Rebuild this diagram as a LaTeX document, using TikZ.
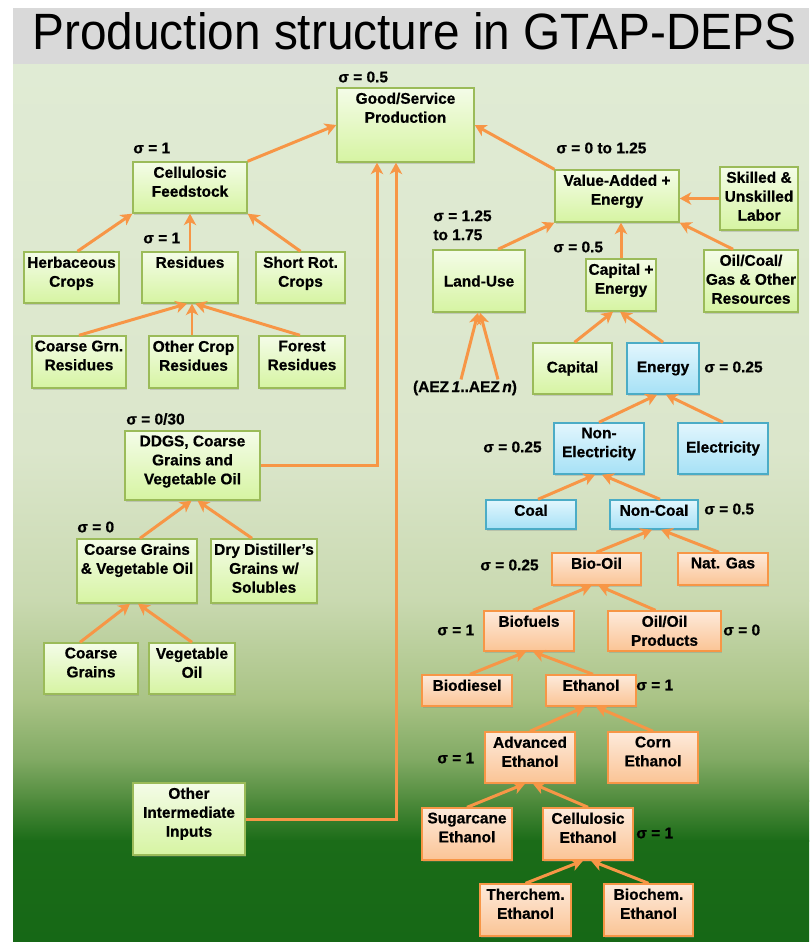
\documentclass[tikz,border=0pt]{standalone}
\usepackage{fontspec}
\setmainfont{Liberation Sans}
\newfontfamily\heavyfnt{Liberation Sans Bold}[FakeBold=0.7]
\usepackage{graphicx}
\usetikzlibrary{arrows.meta,calc,shadows}

% palette
\definecolor{titlegray}{HTML}{D9D9D9}
\definecolor{bgA}{HTML}{E0EBD4}
\definecolor{bgB}{HTML}{DBE6CB}
\definecolor{bgC}{HTML}{C9D9B0}
\definecolor{bgD}{HTML}{A9C385}
\definecolor{bgE}{HTML}{80A963}
\definecolor{bgF}{HTML}{4F8B3C}
\definecolor{bgG}{HTML}{1B6C18}
\definecolor{bgH}{HTML}{166816}
\definecolor{gtop}{HTML}{F4FCE8}
\definecolor{gbot}{HTML}{D6F4A2}
\definecolor{gline}{HTML}{9BBB59}
\definecolor{btop}{HTML}{E2F6FD}
\definecolor{bbot}{HTML}{A6E1F6}
\definecolor{bline}{HTML}{4BACC6}
\definecolor{otop}{HTML}{FDEADB}
\definecolor{obot}{HTML}{FBC495}
\definecolor{oline}{HTML}{F79646}
\definecolor{arrc}{HTML}{F79646}

\newcommand\boxfnt{\heavyfnt\fontsize{8.8}{10.8}\selectfont}

% box: style, name, x1, y1, x2, y2, vertical text position (t/c), text
\newcommand\bx[8]{%
  \node[#1] (#2) at ({(#3+#5)/2},{(#4+#6)/2})
    {\parbox[c][\dimexpr0.02cm*(#6-#4)\relax][#7]{\dimexpr0.02cm*(#5-#3)\relax}%
      {\ifx t#7\vspace*{2.6pt}\fi\centering #8\par}};}

\tikzset{
  boxbase/.style={inner sep=0pt, line width=0.8pt, font=\boxfnt,
    drop shadow={shadow xshift=0.8pt, shadow yshift=-0.9pt, opacity=0.3}},
  gbox/.style={boxbase, draw=gline, top color=gtop, bottom color=gbot},
  bbox/.style={boxbase, draw=bline, top color=btop, bottom color=bbot},
  obox/.style={boxbase, draw=oline, top color=otop, bottom color=obot},
  sig/.style={font=\boxfnt, inner sep=0pt, anchor=west},
  arr/.style={draw=arrc, line width=1.7pt,
    -{Stealth[length=6.5pt,width=7pt,inset=1.8pt]}},
  link/.style={draw=arrc, line width=1.7pt, line join=miter,
    -{Stealth[length=6.5pt,width=7pt,inset=1.8pt]}},
}

\begin{document}
\begin{tikzpicture}[x=0.02cm,y=-0.02cm]
\useasboundingbox (0,0) rectangle (809,942);

% background panels
\fill[white] (0,0) rectangle (809,942);
\fill[titlegray] (13,8) rectangle (809,65.5);
\fill[bgA] (13,65) rectangle (809,66);
\shade[top color=bgA, bottom color=bgB] (13,65) rectangle (809,451);
\shade[top color=bgB, bottom color=bgC] (13,450) rectangle (809,601);
\shade[top color=bgC, bottom color=bgD] (13,600) rectangle (809,701);
\shade[top color=bgD, bottom color=bgE] (13,700) rectangle (809,761);
\shade[top color=bgE, bottom color=bgF] (13,760) rectangle (809,801);
\shade[top color=bgF, bottom color=bgG] (13,800) rectangle (809,841);
\shade[top color=bgG, bottom color=bgH] (13,840) rectangle (809,942);

% title
\node[anchor=base west, inner sep=0pt] (title) at (32,50)
  {\resizebox{15.28cm}{0.74cm}{Production structure in GTAP-DEPS}};

% ---- left branch ----
\bx{gbox}{gsp}{337}{88}{474}{162}{t}{Good/Service\\Production}
\bx{gbox}{cf}{133}{162}{247}{213}{t}{Cellulosic\\Feedstock}
\bx{gbox}{herb}{24}{252}{119}{303}{t}{Herbaceous\\Crops}
\bx{gbox}{res}{142}{252}{238}{303}{t}{Residues}
\bx{gbox}{srot}{256}{252}{345}{303}{t}{Short Rot.\\Crops}
\bx{gbox}{cgr}{32}{336}{126}{388}{t}{Coarse Grn.\\Residues}
\bx{gbox}{ocr}{149}{336}{238}{388}{t}{Other Crop\\Residues}
\bx{gbox}{fr}{259}{336}{345}{388}{t}{Forest\\Residues}
\bx{gbox}{ddgs}{125}{431}{260}{500}{t}{DDGS, Coarse\\Grains and\\Vegetable Oil}
\bx{gbox}{cgvo}{77}{539}{197}{603}{t}{Coarse Grains\\\& Vegetable Oil}
\bx{gbox}{ddg}{211}{539}{317}{603}{t}{Dry Distiller’s\\Grains w/\\Solubles}
\bx{gbox}{cg}{44}{643}{138}{694}{t}{Coarse\\Grains}
\bx{gbox}{vo}{149}{643}{235}{694}{t}{Vegetable\\Oil}
\bx{gbox}{oii}{133}{783}{245}{855}{t}{Other\\Intermediate\\Inputs}

% ---- right branch ----
\bx{gbox}{va}{555}{170}{679}{222}{t}{Value-Added +\\Energy}
\bx{gbox}{skl}{720}{167}{798}{230}{t}{Skilled \&\\Unskilled\\Labor}
\bx{gbox}{lu}{433}{250}{525}{312}{c}{Land-Use}
\bx{gbox}{cape}{586}{259}{656}{311}{t}{Capital +\\Energy}
\bx{gbox}{ocg}{704}{250}{798}{312}{t}{Oil/Coal/\\Gas \& Other\\Resources}
\bx{gbox}{cap}{533}{343}{612}{394}{c}{Capital}
\bx{bbox}{en}{627}{343}{699}{394}{c}{Energy}
\bx{bbox}{nel}{554}{423}{644}{474}{t}{Non-\\Electricity}
\bx{bbox}{el}{678}{423}{768}{474}{c}{Electricity}
\bx{bbox}{coal}{486}{500}{576}{529}{t}{Coal}
\bx{bbox}{ncoal}{610}{500}{698}{529}{t}{Non-Coal}
\bx{obox}{bio}{552}{553}{641}{585}{t}{Bio-Oil}
\bx{obox}{ng}{678}{553}{768}{585}{t}{Nat. Gas}
\bx{obox}{bf}{484}{611}{574}{651}{t}{Biofuels}
\bx{obox}{oil}{608}{611}{721}{651}{t}{Oil/Oil\\Products}
\bx{obox}{bd}{422}{675}{512}{706}{t}{Biodiesel}
\bx{obox}{eth}{546}{675}{636}{706}{t}{Ethanol}
\bx{obox}{adv}{485}{732}{575}{783}{t}{Advanced\\Ethanol}
\bx{obox}{corn}{608}{732}{698}{783}{t}{Corn\\Ethanol}
\bx{obox}{sug}{422}{808}{512}{860}{t}{Sugarcane\\Ethanol}
\bx{obox}{ce}{543}{808}{633}{860}{t}{Cellulosic\\Ethanol}
\bx{obox}{th}{480}{884}{571}{936}{t}{Therchem.\\Ethanol}
\bx{obox}{bc}{604}{884}{693}{936}{t}{Biochem.\\Ethanol}

\node[font=\boxfnt, inner sep=0pt] (aez) at (465,388)
  {(AEZ\,\textit{1}..AEZ\,\textit{n})};

% elasticity labels
\node[sig] (s1)  at (338,77)  {σ = 0.5};
\node[sig] (s2)  at (133,148) {σ = 1};
\node[sig] (s3)  at (143,238) {σ = 1};
\node[sig] (s4)  at (126,419) {σ = 0/30};
\node[sig] (s5)  at (77,527)  {σ = 0};
\node[sig] (s6)  at (556,148) {σ = 0 to 1.25};
\node[sig, anchor=north west, align=left] (s7) at (433,210) {σ = 1.25\\to 1.75};
\node[sig] (s8)  at (553,247) {σ = 0.5};
\node[sig] (s9)  at (704,367) {σ = 0.25};
\node[sig] (s10) at (483,447) {σ = 0.25};
\node[sig] (s11) at (704,509) {σ = 0.5};
\node[sig] (s12) at (480,565) {σ = 0.25};
\node[sig] (s13) at (437,630) {σ = 1};
\node[sig] (s14) at (723,630) {σ = 0};
\node[sig] (s15) at (636,685) {σ = 1};
\node[sig] (s16) at (437,758) {σ = 1};
\node[sig] (s17) at (636,833) {σ = 1};

% ---- connectors, left ----
\draw[arr] (cf.north east) -- (gsp.west);
\draw[arr] ($(herb.north)+(6,0)$) -- (cf.south west);
\draw[arr] (res.north) -- (cf.south);
\draw[arr] (srot.north) -- (cf.south east);
\draw[arr] (cgr.north) -- ($(res.south)+(-3,0)$);
\draw[arr] ($(ocr.north)+(-1.5,0)$) -- ($(res.south)+(2,0)$);
\draw[arr] ($(fr.north)+(-2,0)$) -- ($(res.south)+(5,0)$);
\draw[link] (ddgs.east) -| ($(gsp.south)+(-28.5,0)$);
\draw[link] (oii.east) -| ($(gsp.south)+(-9.5,0)$);
\draw[arr] ($(cgvo.north)+(3,0)$) -- ($(ddgs.south)+(-1,0)$);
\draw[arr] ($(ddg.north)+(-12,0)$) -- ($(ddgs.south)+(5,0)$);
\draw[arr] ($(cg.north)+(-11,0)$) -- ($(cgvo.south)+(-7,0)$);
\draw[arr] (vo.north) -- ($(cgvo.south)+(1,0)$);

% ---- connectors, right ----
\draw[arr] (va.north west) -- (gsp.east);
\draw[arr] (skl.west) -- (skl.west -| va.east);
\draw[arr] ($(lu.north)+(19,0)$) -- (va.south west);
\draw[arr] (cape.north) -- (cape.north |- va.south);
\draw[arr] ($(ocg.north)+(-18,0)$) -- (va.south east);
\draw[arr] ($(aez.north)+(-4,-1)$) -- ($(lu.south)+(-1,0)$);
\draw[arr] ($(aez.north)+(33,-1)$) -- ($(lu.south)+(1,0)$);
\draw[arr] ($(cap.north)+(2,0)$) -- ($(cape.south)+(-8,0)$);
\draw[arr] (en.north) -- ($(cape.south)+(-1,0)$);
\draw[arr] (nel.north) -- ($(en.south)+(-6,0)$);
\draw[arr] (el.north) -- ($(en.south)+(3,0)$);
\draw[arr] ($(coal.north)+(7,0)$) -- ($(nel.south)+(-4,0)$);
\draw[arr] ($(ncoal.north)+(6,0)$) -- ($(nel.south)+(3,0)$);
\draw[arr] (bio.north) -- ($(ncoal.south)+(-2,0)$);
\draw[arr] ($(ng.north)+(-4,0)$) -- ($(ncoal.south)+(7,0)$);
\draw[arr] ($(bf.north)+(4,0)$) -- ($(bio.south)+(-5,0)$);
\draw[arr] ($(oil.north)+(-9,0)$) -- ($(bio.south)+(2,0)$);
\draw[arr] ($(bd.north)+(3,0)$) -- ($(bf.south)+(-3,0)$);
\draw[arr] ($(eth.north)+(2,0)$) -- ($(bf.south)+(4,0)$);
\draw[arr] (adv.north) -- ($(eth.south)+(-6,0)$);
\draw[arr] (corn.north) -- ($(eth.south)+(5,0)$);
\draw[arr] (sug.north) -- ($(adv.south)+(-5,0)$);
\draw[arr] (ce.north) -- ($(adv.south)+(3,0)$);
\draw[arr] (th.north) -- ($(ce.south)+(-5,0)$);
\draw[arr] (bc.north) -- ($(ce.south)+(3,0)$);
\end{tikzpicture}
\end{document}
